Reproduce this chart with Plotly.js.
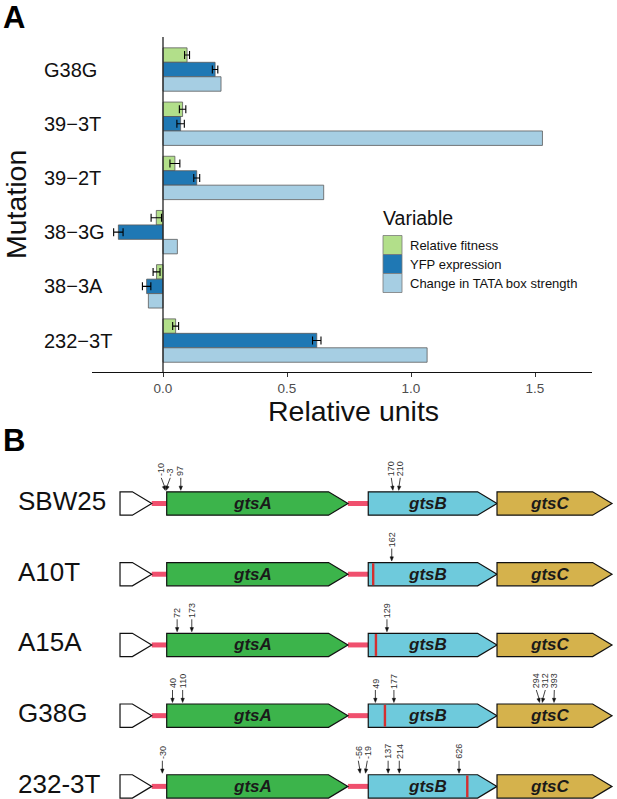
<!DOCTYPE html>
<html><head><meta charset="utf-8">
<script src="https://cdn.plot.ly/plotly-3.0.1.min.js"></script>
<style>html,body{margin:0;padding:0;background:#fff}</style>
</head><body><div id="chart" style="width:617px;height:799px"></div>
<script>
// ---------- Panel A data ----------
const mutations = ['G38G', '39\u22123T', '39\u22122T', '38\u22123G', '38\u22123A', '232\u22123T'];
const seriesNames = ['Relative fitness', 'YFP expression', 'Change in TATA box strength'];
const seriesColors = ['#b2df8a', '#1f78b4', '#a6cee3'];
const fitness    = [0.097, 0.079, 0.048, -0.027, -0.026, 0.051];
const fitnessErr = [0.010, 0.013, 0.020, 0.021, 0.014, 0.012];
const yfp        = [0.210, 0.071, 0.136, -0.180, -0.066, 0.620];
const yfpErr     = [0.011, 0.015, 0.012, 0.019, 0.017, 0.017];
const tata       = [0.234, 1.530, 0.648, 0.058, -0.059, 1.065];
const xTickVals = [0, 0.5, 1, 1.5];
const xTickText = ['0.0', '0.5', '1.0', '1.5'];

// ---------- Panel B data ----------
const strains = ['SBW25', 'A10T', 'A15A', 'G38G', '232-3T'];
const geneNames = ['gtsA', 'gtsB', 'gtsC'];
const geneStart = [0, 1390, 2278];      // bp
const geneEnd   = [1250, 2278, 3071];   // bp
const geneColors = ['#3cb44b', '#6ecadc', '#d5b24c'];
const promoterStart = -322, promoterEnd = -103;
const mutStrain = ['SBW25','SBW25','SBW25','SBW25','SBW25',
                   'A10T',
                   'A15A','A15A','A15A',
                   'G38G','G38G','G38G','G38G','G38G','G38G','G38G',
                   '232-3T','232-3T','232-3T','232-3T','232-3T','232-3T'];
const mutGene = [0,0,0,1,1, 1, 0,0,1, 0,0,1,1,2,2,2, 0,1,1,1,1,1];
const mutPos  = [-10,-3,97,170,210, 162, 72,173,129, 40,110,49,177,294,312,393, -30,-56,-19,137,214,626];
const markStrain = ['A10T', 'A15A', 'G38G', '232-3T'];
const markPos    = [34, 53, 115, 683];  // bp from gtsB start

// ---------- geometry / style constants ----------
const W = 617, H = 799;
const FONT = 'Liberation Sans, Arial, sans-serif';
const px = v => v / W, py = v => 1 - v / H;
const PXBP = 0.145, X2ORIGIN = 166.7, ROWPX = 70.72, ROW0 = 503.5;
const hh = 11.65 / ROWPX;
const headBp = 19.4 / PXBP;

// ---------- Panel A traces ----------
const vals = [fitness, yfp, tata];
const errs = [fitnessErr, yfpErr, null];
const traces = vals.map((v, i) => ({
  type: 'bar', orientation: 'h', y: mutations, x: v, name: seriesNames[i],
  marker: {color: seriesColors[i], line: {color: '#5a5a5a', width: 0.8}},
  error_x: errs[i] ? {type: 'data', array: errs[i], visible: true, color: '#000', thickness: 1.1, width: 4} : {visible: false},
  showlegend: false, xaxis: 'x', yaxis: 'y', hoverinfo: 'skip'
}));

const shapes = [];
const annotations = [];

// zero line
shapes.push({type: 'line', xref: 'x', yref: 'paper', x0: 0, x1: 0, y0: py(372), y1: py(37),
  line: {color: '#222', width: 1.3}});

// category labels
mutations.forEach(m => annotations.push({xref: 'paper', yref: 'y', x: px(42), y: m, xanchor: 'left', yanchor: 'middle',
  text: m, showarrow: false, font: {family: FONT, size: 20, color: '#111'}}));

// axis titles
annotations.push({xref: 'paper', yref: 'paper', x: px(354), y: py(411), text: 'Relative units', showarrow: false,
  xanchor: 'center', yanchor: 'middle', font: {family: FONT, size: 28.5, color: '#111'}});
annotations.push({xref: 'paper', yref: 'paper', x: px(16), y: py(205), text: 'Mutation', showarrow: false, textangle: -90,
  xanchor: 'center', yanchor: 'middle', font: {family: FONT, size: 28.5, color: '#111'}});

// panel letters
annotations.push({xref: 'paper', yref: 'paper', x: px(1), y: py(17), text: '<b>A</b>', showarrow: false,
  xanchor: 'left', yanchor: 'middle', font: {family: FONT, size: 31, color: '#000'}});
annotations.push({xref: 'paper', yref: 'paper', x: px(1), y: py(440), text: '<b>B</b>', showarrow: false,
  xanchor: 'left', yanchor: 'middle', font: {family: FONT, size: 31, color: '#000'}});

// legend (custom, built from series)
annotations.push({xref: 'paper', yref: 'paper', x: px(381), y: py(218), text: 'Variable', showarrow: false,
  xanchor: 'left', yanchor: 'middle', font: {family: FONT, size: 19.5, color: '#111'}});
seriesNames.forEach((n, i) => {
  const top = 235.5 + i * 19;
  shapes.push({type: 'rect', xref: 'paper', yref: 'paper', x0: px(383), x1: px(402), y0: py(top + 19), y1: py(top),
    fillcolor: seriesColors[i], line: {color: '#7a7a7a', width: 0.8}});
  annotations.push({xref: 'paper', yref: 'paper', x: px(408), y: py(top + 9.5), text: n, showarrow: false,
    xanchor: 'left', yanchor: 'middle', font: {family: FONT, size: 13, color: '#111'}});
});

// ---------- Panel B drawing ----------
const toPx = bp => X2ORIGIN + bp * PXBP;
const toBp = p => (p - X2ORIGIN) / PXBP;
const RED = '#f0506e';
strains.forEach((s, r) => {
  const yT = r - hh, yB = r + hh;
  shapes.push({type: 'line', xref: 'x2', yref: 'y2', x0: promoterEnd, x1: geneStart[0], y0: r, y1: r, line: {color: RED, width: 5}});
  shapes.push({type: 'line', xref: 'x2', yref: 'y2', x0: geneEnd[0], x1: geneStart[1], y0: r, y1: r, line: {color: RED, width: 5}});
  const pb = promoterEnd - headBp;
  shapes.push({type: 'path', xref: 'x2', yref: 'y2',
    path: `M${promoterStart},${yT} L${pb},${yT} L${promoterEnd},${r} L${pb},${yB} L${promoterStart},${yB} Z`,
    fillcolor: '#ffffff', line: {color: '#111', width: 1.2}});
  geneNames.forEach((g, k) => {
    const b = geneEnd[k] - headBp;
    shapes.push({type: 'path', xref: 'x2', yref: 'y2',
      path: `M${geneStart[k]},${yT} L${b},${yT} L${geneEnd[k]},${r} L${b},${yB} L${geneStart[k]},${yB} Z`,
      fillcolor: geneColors[k], line: {color: '#111', width: 1.2}});
    annotations.push({xref: 'x2', yref: 'y2', x: (geneStart[k] + b) / 4 + (geneStart[k] + geneEnd[k]) / 4, y: r,
      text: '<b><i>' + g + '</i></b>', showarrow: false, xanchor: 'center', yanchor: 'middle',
      font: {family: FONT, size: 17, color: '#1a1a1a'}});
  });
  annotations.push({xref: 'paper', yref: 'y2', x: px(16), y: r, yshift: 2.5, text: s, showarrow: false,
    xanchor: 'left', yanchor: 'middle', font: {family: FONT, size: 26, color: '#111'}});
});

markStrain.forEach((s, i) => {
  const r = strains.indexOf(s);
  const x = geneStart[1] + markPos[i];
  shapes.push({type: 'line', xref: 'x2', yref: 'y2', x0: x, x1: x, y0: r - hh + 0.01, y1: r + hh - 0.01,
    line: {color: '#d42f2f', width: 2.4}});
});

strains.forEach((s, r) => {
  const idx = mutStrain.map((m, i) => m === s ? i : -1).filter(i => i >= 0);
  const sites = idx.map(i => ({i, site: toPx(geneStart[mutGene[i]] + mutPos[i])})).sort((a, b) => a.site - b.site);
  let clusters = sites.map(o => ({members: [o]}));
  const GAP = 9;
  const place = c => {
    const mean = c.members.reduce((a, o) => a + o.site, 0) / c.members.length;
    const n = c.members.length;
    c.members.forEach((o, k) => o.lab = mean + (k - (n - 1) / 2) * GAP);
  };
  clusters.forEach(place);
  let merged = true;
  while (merged) {
    merged = false;
    for (let k = 1; k < clusters.length; k++) {
      const a = clusters[k - 1], b = clusters[k];
      if (b.members[0].lab - a.members[a.members.length - 1].lab < GAP - 0.01) {
        const c = {members: a.members.concat(b.members)};
        place(c);
        clusters.splice(k - 1, 2, c);
        merged = true;
        break;
      }
    }
  }
  const boxTopPx = ROW0 + r * ROWPX - 11.65;
  const toY = p => (p - ROW0) / ROWPX;
  sites.forEach(o => {
    const tipY = boxTopPx - 1.5, tailY = boxTopPx - 14;
    const tipX = o.site, tailX = o.lab;
    shapes.push({type: 'line', xref: 'x2', yref: 'y2', x0: toBp(tailX), y0: toY(tailY), x1: toBp(tipX), y1: toY(tipY - 2),
      line: {color: '#111', width: 0.8}});
    const dx = tipX - tailX, dy = tipY - tailY, L = Math.hypot(dx, dy);
    const ux = dx / L, uy = dy / L, qx = -uy, qy = ux;
    const bx = tipX - 4.2 * ux, by = tipY - 4.2 * uy;
    const p1 = [bx + 1.7 * qx, by + 1.7 * qy], p2 = [bx - 1.7 * qx, by - 1.7 * qy];
    shapes.push({type: 'path', xref: 'x2', yref: 'y2',
      path: `M${toBp(tipX)},${toY(tipY)} L${toBp(p1[0])},${toY(p1[1])} L${toBp(p2[0])},${toY(p2[1])} Z`,
      fillcolor: '#111', line: {color: '#111', width: 0.5}});
    annotations.push({xref: 'x2', yref: 'y2', x: toBp(tailX), y: toY(tailY - 0.5), text: String(mutPos[o.i]),
      showarrow: false, textangle: -90, xanchor: 'center', yanchor: 'bottom', borderpad: 0,
      font: {family: FONT, size: 9, color: '#333'}});
  });
});

const layout = {
  width: W, height: H, margin: {l: 0, r: 0, t: 0, b: 0, pad: 0},
  paper_bgcolor: '#fff', plot_bgcolor: 'rgba(0,0,0,0)', font: {family: FONT, color: '#111'},
  showlegend: false, barmode: 'group', bargap: 0.2, bargroupgap: 0,
  xaxis: {domain: [px(92), px(592)], range: [(92 - 163) / 248, (592 - 163) / 248], anchor: 'y',
    tickvals: xTickVals, ticktext: xTickText, ticks: 'outside', ticklen: 4, tickwidth: 1, tickcolor: '#333',
    showline: true, linecolor: '#111', linewidth: 1.2, showgrid: false, zeroline: false,
    tickfont: {family: FONT, size: 13.5, color: '#4d4d4d'}, fixedrange: true},
  yaxis: {domain: [py(372), py(37)], type: 'category', categoryorder: 'array', categoryarray: mutations,
    range: [5.58, -0.6], anchor: 'x', showticklabels: false, ticks: '', showline: false, showgrid: false,
    zeroline: false, fixedrange: true},
  xaxis2: {domain: [0, 1], range: [toBp(0), toBp(W)], anchor: 'y2', visible: false, fixedrange: true},
  yaxis2: {domain: [0, py(440)], range: [(799 - ROW0) / ROWPX, (440 - ROW0) / ROWPX], anchor: 'x2',
    visible: false, fixedrange: true},
  shapes, annotations
};
traces.push({type: 'scatter', x: [0], y: [0], xaxis: 'x2', yaxis: 'y2', mode: 'markers',
  marker: {opacity: 0}, hoverinfo: 'skip', showlegend: false});

Plotly.newPlot('chart', traces, layout, {staticPlot: true, displayModeBar: false});
</script></body></html>
